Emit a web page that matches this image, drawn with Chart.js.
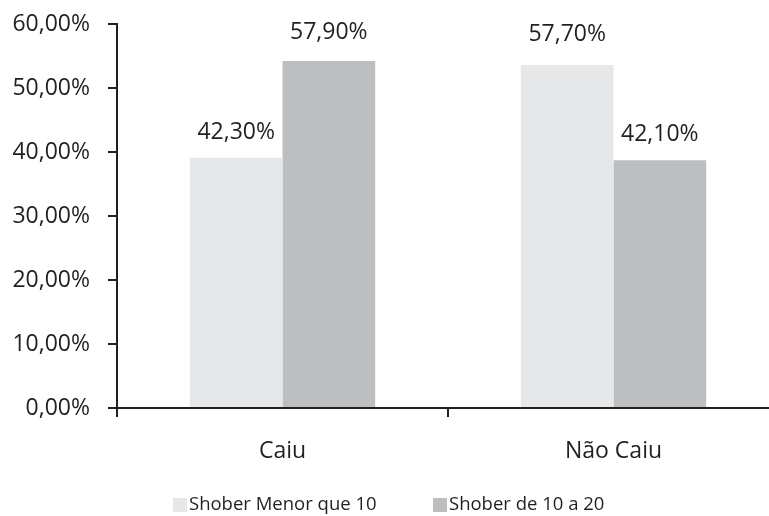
<!DOCTYPE html>
<html><head><meta charset="utf-8">
<script src="https://cdn.jsdelivr.net/npm/chart.js@4.4.1/dist/chart.umd.min.js"></script>
<style>
html,body{margin:0;padding:0;background:#fff;overflow:hidden;width:769px;height:516px}
#wrap{position:relative;width:790px;height:516px}
</style></head><body>
<div id="wrap"><canvas id="c"></canvas></div>
<script>
const categories = ["Caiu", "Não Caiu"];
const seriesNames = ["Shober Menor que 10", "Shober de 10 a 20"];
// bar heights as drawn in the picture (in %)
const barsMenor = [39.1, 53.6];
const barsDe10 = [54.2, 38.7];
// printed labels above the bars
const labelsMenor = [42.3, 57.7];
const labelsDe10 = [57.9, 42.1];
const yTicks = [0, 10, 20, 30, 40, 50, 60];

const FONT = "'Open Sans', sans-serif";
const INK = "#231f20";
const fmt = v => v.toFixed(2).replace('.', ',') + '%';

const valueLabels = {
  id: 'valueLabels',
  afterDatasetsDraw(chart) {
    const ctx = chart.ctx, y = chart.scales.y;
    const lists = [labelsMenor, labelsDe10];
    ctx.save();
    ctx.font = "23px " + FONT;
    ctx.fillStyle = INK;
    ctx.textAlign = 'center';
    ctx.textBaseline = 'alphabetic';
    chart.data.datasets.forEach((ds, i) => {
      chart.getDatasetMeta(i).data.forEach((bar, j) => {
        const v = lists[i][j];
        ctx.fillText(fmt(v), bar.x, y.getPixelForValue(v) + 2);
      });
    });
    ctx.restore();
  }
};

const legendPlugin = {
  id: 'customLegend',
  afterDraw(chart) {
    const ctx = chart.ctx;
    ctx.save();
    ctx.font = "18.5px " + FONT;
    ctx.textBaseline = 'middle';
    ctx.textAlign = 'left';
    const boxX = [173, 433];
    const cy = 505;
    chart.data.datasets.forEach((ds, i) => {
      ctx.fillStyle = ds.backgroundColor;
      ctx.fillRect(boxX[i], cy - 7, 14, 14);
      ctx.fillStyle = INK;
      ctx.fillText(ds.label, boxX[i] + 16, cy);
    });
    ctx.restore();
  }
};

new Chart(document.getElementById('c'), {
  type: 'bar',
  data: {
    labels: categories,
    datasets: [
      { label: seriesNames[0], data: barsMenor, backgroundColor: '#e6e7e8', categoryPercentage: 0.56, barPercentage: 1.0 },
      { label: seriesNames[1], data: barsDe10, backgroundColor: '#bcbec0', categoryPercentage: 0.56, barPercentage: 1.0 }
    ]
  },
  options: {
    responsive: true,
    maintainAspectRatio: false,
    animation: false,
    layout: { padding: { top: 24, right: 11, left: 0, bottom: 0 } },
    plugins: { legend: { display: false }, tooltip: { enabled: false } },
    scales: {
      x: {
        afterFit(s) { s.height = 108; s.paddingLeft = 0; s.paddingRight = 0; },
        grid: { display: true, drawOnChartArea: false, drawTicks: true, tickLength: 9, color: INK, lineWidth: 2, offset: true },
        border: { display: true, color: INK, width: 2 },
        ticks: { color: INK, font: { family: FONT, size: 23 }, padding: 21 }
      },
      y: {
        min: 0, max: 60,
        afterFit(s) { s.width = 117; s.paddingTop = 0; s.paddingBottom = 0; },
        afterBuildTicks(s) { s.ticks = yTicks.map(v => ({ value: v })); },
        grid: { display: true, drawOnChartArea: false, drawTicks: true, tickLength: 9, color: INK, lineWidth: 2 },
        border: { display: true, color: INK, width: 2 },
        ticks: { color: INK, font: { family: FONT, size: 23 }, padding: 18, callback: v => fmt(v) }
      }
    }
  },
  plugins: [valueLabels, legendPlugin]
});
</script>
</body></html>
